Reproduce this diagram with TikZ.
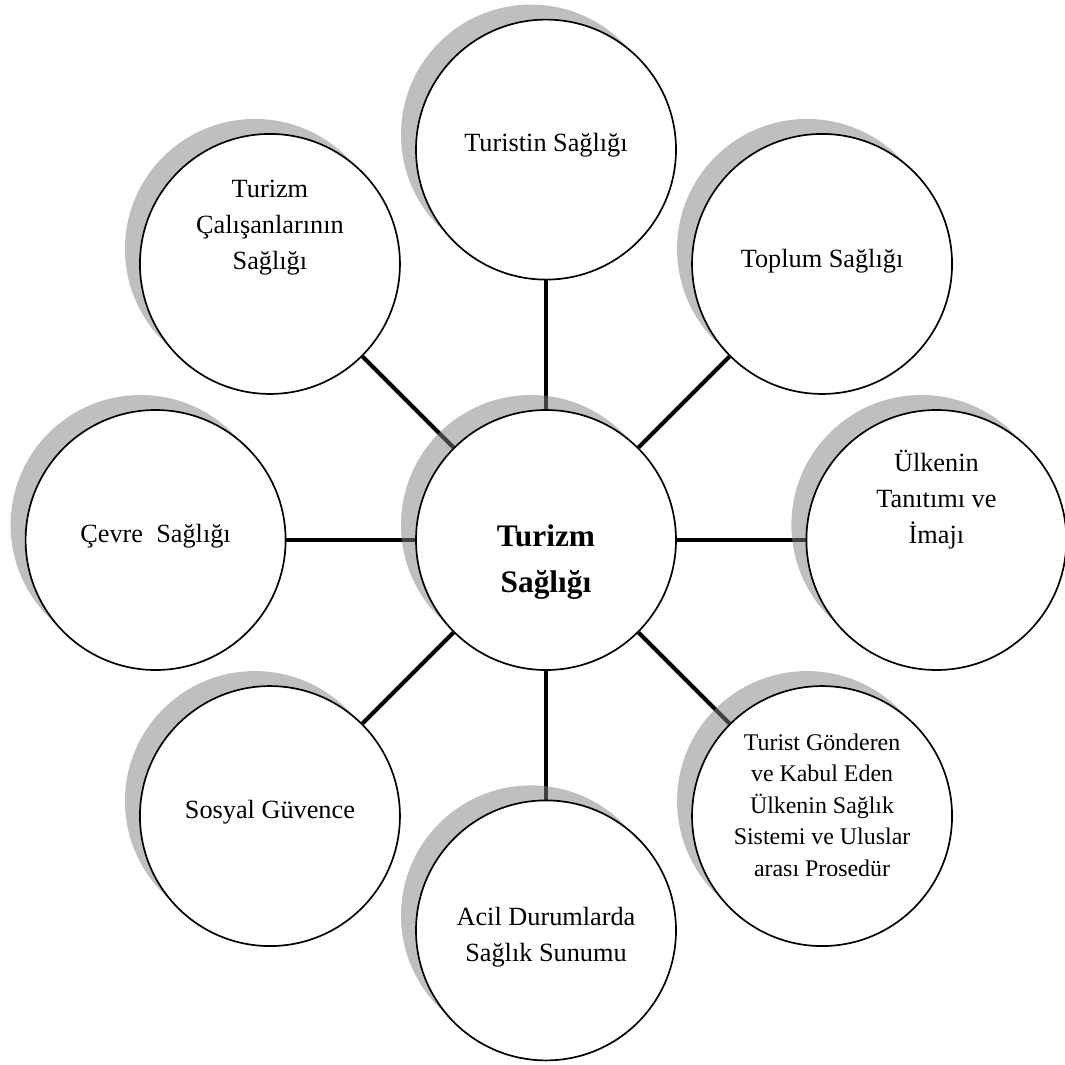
\documentclass[tikz,border=0pt]{standalone}
\usepackage{fontspec}
\setmainfont{Liberation Serif}
\usepackage{tikz}
\usetikzlibrary{shadows}
\pgfdeclarelayer{bg}
\pgfsetlayers{bg,main}

\begin{document}
\begin{tikzpicture}[
  bubble/.style={circle,draw,line width=1.2pt,fill=white,minimum size=6.5cm,inner sep=0pt,
    drop shadow={shadow xshift=-0.375cm,shadow yshift=0.375cm}},
  bubbletext/.style={align=center,font=\fontsize{18.7}{25.6}\selectfont},
  smalltext/.style={align=center,font=\fontsize{17}{22.4}\selectfont},
  hubtext/.style={align=center,font=\bfseries\fontsize{22.3}{32.7}\selectfont},
  spoke/.style={line width=2.8pt}]
\useasboundingbox (-13.65,-13.1) rectangle (12.975,13.5);

\node[bubble] (hub) at (0,0) {};
\node[hubtext] (hub-t) at ([yshift=-0.55cm]hub) {Turizm\\Sağlığı};

\foreach \ang/\name/\dy/\sty/\txt in {
    90/tur/0.1/bubbletext/{Turistin Sağlığı},
    45/top/0.075/bubbletext/{Toplum Sağlığı},
    0/ulk/1.0/bubbletext/{Ülkenin\\Tanıtımı ve\\İmajı},
    -45/gon/0.28/smalltext/{Turist Gönderen\\ve Kabul Eden\\Ülkenin Sağlık\\Sistemi ve Uluslar\\arası Prosedür},
    -90/acil/-0.175/bubbletext/{Acil Durumlarda\\Sağlık Sunumu},
    -135/sos/0.1/bubbletext/{Sosyal Güvence},
    180/cev/0.1/bubbletext/{Çevre\ \ Sağlığı},
    135/cal/0.9/bubbletext/{Turizm\\Çalışanlarının\\Sağlığı}}{
  \node[bubble] (\name) at (\ang:9.76) {};
  \node[\sty] (\name-t) at ([yshift=\dy cm]\name) {\txt};
  \begin{pgfonlayer}{bg}
    \draw[spoke] (hub) -- (\name);
  \end{pgfonlayer}
}
\end{tikzpicture}
\end{document}
